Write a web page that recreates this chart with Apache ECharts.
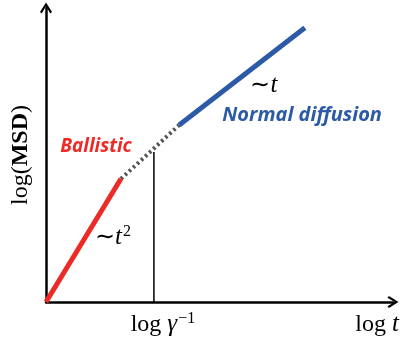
<!DOCTYPE html>
<html><head><meta charset="utf-8">
<script src="https://cdn.jsdelivr.net/npm/echarts@6/dist/echarts.min.js"></script>
<style>html,body{margin:0;padding:0;background:#fff}#c{width:402px;height:342px}</style>
</head><body><div id="c"></div>
<script>
// Schematic values in log units (x: log t, y: log MSD)
const ballistic = [[0, 0], [2.16, 4.19]];
const crossover = [[2.16, 4.19], [3.83, 6.01]];
const normal = [[3.83, 6.01], [7.46, 9.33]];
const gammaMark = [[3.11, 0], [3.11, 5.10]];
const labels = [
  { pos: [1.44, 5.27], kind: 'red' },
  { pos: [7.38, 6.34], kind: 'blue' },
  { pos: [6.28, 7.35], kind: 'law1' },
  { pos: [1.93, 2.18], kind: 'law2' },
  { pos: [3.37, -0.77], kind: 'gamma' },
  { pos: [9.54, -0.77], kind: 'logt' }
];
const RED = '#ec2a26', BLUE = '#2c5aa6';
const serif = 'Liberation Serif';
const arrowPath = 'path://M5,0 L10,8 L8.6,9.2 L5,3.2 L1.4,9.2 L0,8 Z';

const chart = echarts.init(document.getElementById('c'));
function fmt(k) {
  if (k === 'red') return 'Ballistic';
  if (k === 'blue') return 'Normal diffusion';
  if (k === 'law1') return '{s|∼}{i|t}';
  if (k === 'law2') return '{s|∼}{i|t}{sup|2}';
  if (k === 'gamma') return '{s|log }{i|γ}{sup|−1}';
  if (k === 'logt') return '{s|log }{i|t}';
}
function style(k) {
  if (k === 'red') return { color: RED, fontFamily: 'Open Sans', fontWeight: 'bold', fontStyle: 'italic', fontSize: 19 };
  if (k === 'blue') return { color: BLUE, fontFamily: 'Open Sans', fontWeight: 'bold', fontStyle: 'italic', fontSize: 20 };
  return {
    color: '#000', fontFamily: serif, fontSize: 24,
    rich: {
      s: { fontFamily: serif, fontSize: 24, color: '#000' },
      i: { fontFamily: serif, fontStyle: 'italic', fontSize: 25, color: '#000' },
      sup: { fontFamily: serif, fontSize: 16, color: '#000', verticalAlign: 'top', padding: [0, 0, 12, 1] }
    }
  };
}
chart.setOption({
  animation: false,
  grid: { left: 46, right: 9, top: 8, bottom: 40, outerBoundsMode: 'none', containLabel: false },
  xAxis: {
    type: 'value', min: 0, max: 10,
    axisLine: { show: true, symbol: ['none', arrowPath], symbolSize: [12, 12], lineStyle: { color: '#000', width: 2.5 } },
    axisTick: { show: false }, axisLabel: { show: false }, splitLine: { show: false }
  },
  yAxis: {
    type: 'value', min: 0, max: 10,
    axisLine: { show: true, symbol: ['none', arrowPath], symbolSize: [12, 12], lineStyle: { color: '#000', width: 2.5 } },
    axisTick: { show: false }, axisLabel: { show: false }, splitLine: { show: false },
    name: '{s|log(}{b|MSD}{s|)}', nameLocation: 'middle', nameGap: 13, nameRotate: 90,
    nameTextStyle: {
      rich: {
        s: { fontFamily: serif, fontSize: 24, color: '#000' },
        b: { fontFamily: serif, fontWeight: 'bold', fontSize: 24, color: '#000' }
      }
    }
  },
  series: [
    { type: 'line', data: gammaMark, symbol: 'none', lineStyle: { color: '#000', width: 1.5 } },
    { type: 'line', data: crossover, symbol: 'none', lineStyle: { color: '#555', width: 4, type: [2.5, 3] } },
    { type: 'line', data: ballistic, symbol: 'none', lineStyle: { color: RED, width: 5, cap: 'butt' } },
    { type: 'line', data: normal, symbol: 'none', lineStyle: { color: BLUE, width: 5, cap: 'butt' } },
    {
      type: 'scatter', clip: false, symbolSize: 0, silent: true,
      itemStyle: { opacity: 1 },
      data: labels.map(d => ({
        value: d.pos,
        label: Object.assign({ show: true, position: 'inside', opacity: 1, formatter: fmt(d.kind) }, style(d.kind))
      }))
    }
  ]
});
</script></body></html>
